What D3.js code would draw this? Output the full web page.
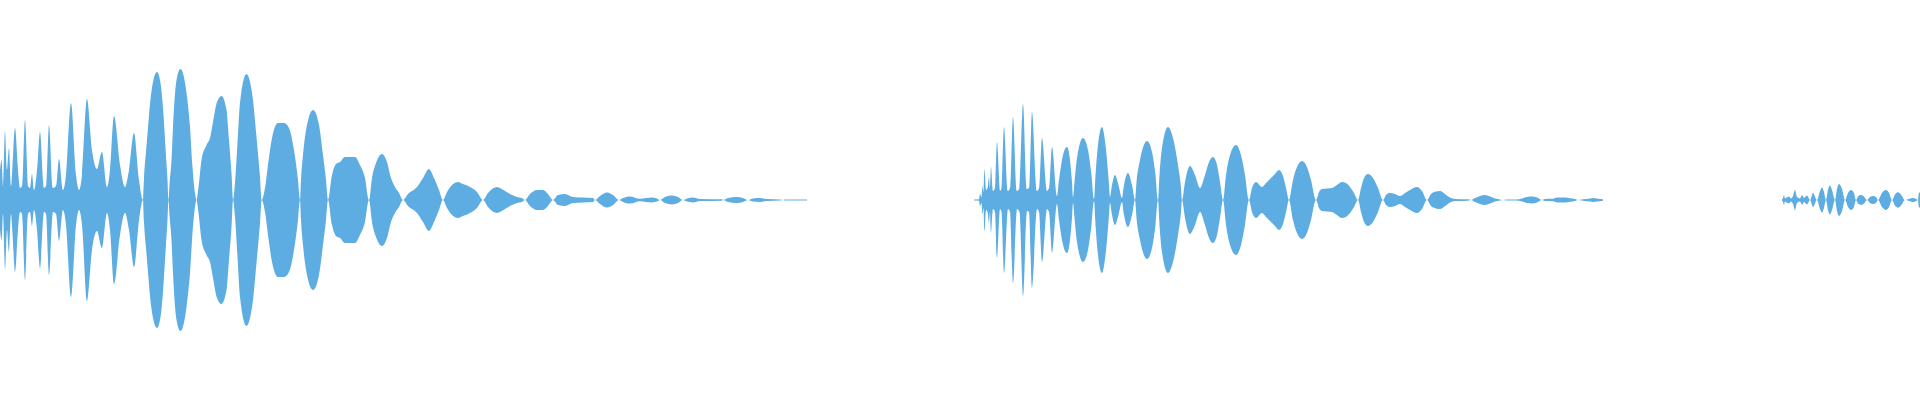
<!DOCTYPE html>
<html>
<head>
<meta charset="utf-8">
<script src="https://cdn.jsdelivr.net/npm/d3@7"></script>
<style>
  html, body { margin: 0; padding: 0; background: #ffffff; }
  svg { display: block; }
</style>
</head>
<body>
<svg id="chart" width="1920" height="400"></svg>
<script>
// Waveform envelope: [time in seconds, amplitude in % of full scale], one list per audible clip
const clip1 = [
  [0.00,15],[0.015,20],[0.03,7],[0.05,34.5],[0.07,15],[0.09,26],[0.11,7],[0.125,17],[0.15,36],[0.18,15],
  [0.20,6],[0.22,7],[0.25,40],[0.28,7],[0.30,6],[0.32,13],[0.34,5],[0.37,15],[0.40,34],[0.44,6],
  [0.46,7],[0.49,37.5],[0.53,6],[0.56,7],[0.59,20.5],[0.63,5],[0.66,12.5],[0.71,48.5],[0.76,12.5],[0.79,5],
  [0.82,12.5],[0.87,50.5],[0.92,25],[0.97,15.5],[1.02,24],[1.07,6.5],[1.10,15],[1.14,42],[1.20,17.5],[1.25,6.5],
  [1.29,15],[1.34,33.5],[1.39,10],[1.43,0],
  [1.44,11],[1.46,24],[1.48,36],[1.50,48],[1.53,59],[1.57,64],[1.60,60],[1.63,46],[1.66,22],[1.675,10],[1.685,0],
  [1.695,7.5],[1.715,20],[1.73,36.5],[1.765,60],[1.805,65.5],[1.865,53.5],[1.90,36.5],[1.925,16.5],[1.95,3.5],[1.965,0],
  [1.985,6.5],[2.015,20],[2.065,27.5],[2.10,31],[2.13,39],[2.17,49],[2.215,52],[2.265,45],[2.29,30],[2.315,13.5],[2.33,0],
  [2.35,8.5],[2.375,28.5],[2.40,48.5],[2.465,63],[2.53,50],[2.565,31.5],[2.60,11.5],[2.617,0],
  [2.65,6],[2.68,17.5],[2.72,31],[2.78,38.5],[2.84,38.5],[2.89,36],[2.94,25],[2.98,10],[3.00,0],
  [3.01,10],[3.03,22.5],[3.07,37.5],[3.13,45],[3.19,37.5],[3.23,22.5],[3.26,10],[3.28,0],
  [3.32,12.5],[3.36,18],[3.40,19],[3.45,21.5],[3.50,21.5],[3.55,21.5],[3.60,17.5],[3.65,11],[3.69,0],
  [3.72,11],[3.76,18.5],[3.82,23],[3.87,19],[3.91,11],[3.95,6.5],[3.99,3.5],[4.03,0],
  [4.08,3],[4.17,6.5],[4.23,11],[4.29,15.5],[4.34,11],[4.39,5],[4.43,0],
  [4.47,4],[4.52,7.5],[4.58,9],[4.63,8],[4.70,6.5],[4.77,4],[4.83,0],
  [4.88,3.5],[4.97,6.5],[5.05,4.5],[5.12,2.5],[5.17,1.5],[5.22,1],[5.25,0],
  [5.30,3],[5.37,5],[5.43,5],[5.48,3],[5.53,0],
  [5.58,2.5],[5.65,3],[5.73,1.5],[5.83,1.2],[5.93,1],[5.95,0],
  [6.00,2],[6.07,3.8],[6.13,2.5],[6.19,0],
  [6.23,1],[6.30,1.8],[6.40,0.6],[6.46,1],[6.52,1.2],[6.57,0.8],[6.60,0],
  [6.65,1.5],[6.72,2.2],[6.78,1.5],[6.83,0],
  [6.87,0.8],[6.93,1.2],[7.00,0.5],[7.22,0.35],[7.23,0],
  [7.28,1],[7.37,1.5],[7.43,1],[7.48,0],
  [7.53,0.8],[7.60,1],[7.67,0.5],[7.80,0.3],[7.83,0],[7.85,0.25],[8.07,0.25]
];

const clip2 = [
  [9.74,0.25],[9.79,0.4],[9.80,3],[9.815,1.5],[9.825,7],[9.835,4],[9.845,15.5],[9.86,5],[9.875,6],[9.89,11.5],
  [9.90,6],[9.91,16.5],[9.93,4.5],[9.95,6],[9.97,29],[10.00,4.5],[10.015,6],[10.04,36.5],[10.08,4.5],[10.10,6],
  [10.13,41.5],[10.17,4.5],[10.195,6],[10.23,48],[10.27,5.5],[10.29,6],[10.32,44],[10.37,4.5],[10.39,6],[10.42,31],
  [10.47,4.5],[10.49,6],[10.52,26.5],[10.57,2],
  [10.59,10],[10.62,20],[10.67,26.5],[10.70,20],[10.72,9],[10.73,1.5],
  [10.745,9],[10.77,21],[10.83,31],[10.88,25],[10.915,12.5],[10.94,0.5],
  [10.955,12.5],[10.98,27.5],[11.02,36.5],[11.055,27.5],[11.085,11],[11.10,1.5],
  [11.12,7.5],[11.15,12.5],[11.185,7.5],[11.22,1],
  [11.24,7.5],[11.28,13.5],[11.32,7.5],[11.35,0],
  [11.365,9],[11.40,20],[11.47,29.5],[11.52,24],[11.555,12.5],[11.58,0],
  [11.595,12.5],[11.62,26],[11.68,36.5],[11.73,31],[11.78,17.5],[11.81,6],[11.82,0],
  [11.85,9],[11.90,17],[11.95,12.5],[12.00,6],[12.05,12.5],[12.09,19],[12.13,21.5],[12.17,17.5],[12.20,9],[12.23,0],
  [12.26,12.5],[12.30,22.5],[12.36,27.5],[12.41,22.5],[12.45,12.5],[12.49,0],
  [12.52,6],[12.56,9],[12.62,6.5],[12.66,8.5],[12.70,10.5],[12.75,13],[12.79,15],[12.83,12],[12.86,6],[12.89,0],
  [12.93,10],[12.97,16.5],[13.02,19.5],[13.07,16.5],[13.11,10],[13.16,0],
  [13.19,4],[13.22,5.5],[13.32,6],[13.37,7.5],[13.42,9],[13.46,8.5],[13.50,6.5],[13.54,3.5],[13.58,0],
  [13.61,6],[13.64,11],[13.68,13],[13.73,11],[13.78,6],[13.83,0],
  [13.86,2.5],[13.90,3.5],[13.95,3],[14.00,2],[14.05,3.5],[14.10,5],[14.17,6.5],[14.22,4.5],[14.27,0],
  [14.31,3],[14.36,4.2],[14.40,4.5],[14.45,3],[14.50,1.2],[14.55,0.5],[14.68,0.35],[14.71,0],
  [14.75,1],[14.80,2],[14.85,2.5],[14.90,1.8],[14.95,0.8],[15.00,0.3],[15.03,0],
  [15.07,0.25],[15.16,0.3],[15.22,0.8],[15.27,1.5],[15.32,1.7],[15.37,1.2],[15.42,0],
  [15.45,0.5],[15.53,0.6],[15.57,1.2],[15.65,1.2],[15.70,0.9],[15.75,0.5],[15.78,0],
  [15.83,0.35],[15.90,0.8],[15.93,1],[15.97,0.8],[16.03,0.35]
];

const clip3 = [
  [17.82,0.25],[17.83,1],[17.84,2.5],[17.85,0.8],[17.87,1.4],[17.89,1.7],[17.91,0.8],[17.93,2],[17.95,5],[17.97,1.5],
  [18.00,0.8],[18.02,2.5],[18.04,1],[18.07,2.2],[18.10,0],[18.13,3.5],[18.17,0],
  [18.20,4.5],[18.22,6.3],[18.24,4],[18.26,0],[18.28,5],[18.30,7.2],[18.32,5],[18.35,0],
  [18.37,5.5],[18.39,8],[18.42,5.5],[18.45,0],[18.48,3.5],[18.51,5],[18.54,3.5],[18.56,0],
  [18.58,1.8],[18.61,2.5],[18.64,1.8],[18.67,0],[18.70,1.5],[18.73,2],[18.76,1.5],[18.78,0],
  [18.82,3.5],[18.86,5],[18.89,3.5],[18.92,0],[18.95,2.8],[18.98,3.9],[19.01,2.8],[19.05,0],
  [19.09,0.5],[19.13,1],[19.16,0.5],[19.18,0],[19.19,3.8],[19.20,3.8]
];

const clips = [clip1, clip2, clip3];
const timeDomain = [0, 19.2];
const ampDomain = [-100, 100];
const waveColor = "#5dade2";

const width = 1920, height = 400;
const svg = d3.select("#chart");

const x = d3.scaleLinear().domain(timeDomain).range([0, width]);
const y = d3.scaleLinear().domain(ampDomain).range([height, 0]);

const area = d3.area()
  .x(d => x(d[0]))
  .y0(d => y(-d[1]))
  .y1(d => y(d[1]))
  .curve(d3.curveMonotoneX);

svg.selectAll("path.wave")
  .data(clips)
  .join("path")
  .attr("class", "wave")
  .attr("d", area)
  .attr("fill", waveColor);
</script>
</body>
</html>
